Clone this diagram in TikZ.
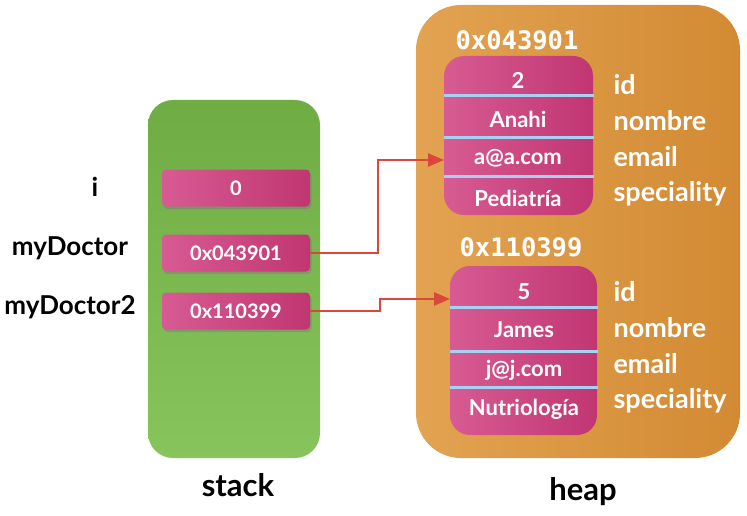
\documentclass[tikz,border=0pt]{standalone}
\usepackage{fontspec}
\setmainfont{Lato}
\newfontfamily\addrfont{DejaVu Sans Mono}
\usetikzlibrary{shadows,arrows.meta}

\definecolor{stackgreen}{HTML}{70AC44}
\definecolor{stackgreenlt}{HTML}{88C45C}
\definecolor{heaporange}{HTML}{D38A33}
\definecolor{heaporangelt}{HTML}{E2A352}
\definecolor{cellpink}{HTML}{C13672}
\definecolor{cellpinklt}{HTML}{D75B92}
\definecolor{sepblue}{HTML}{A5D2F2}
\definecolor{ptrred}{HTML}{D9483A}

\tikzset{
  cell/.style={rounded corners=4pt, left color=cellpinklt, right color=cellpink,
    minimum width=148pt, minimum height=37pt, inner sep=0pt, text=white,
    font=\fontsize{20}{20}\selectfont\bfseries,
    drop shadow={shadow xshift=1.5pt, shadow yshift=-2.5pt, opacity=0.55}},
  record/.style={rounded corners=20pt, left color=cellpinklt, right color=cellpink,
    minimum width=149pt, minimum height=159pt, inner sep=0pt},
  field/.style={text=white, font=\fontsize{22}{22}\selectfont\bfseries},
  fname/.style={text=white, anchor=west, font=\fontsize{27}{27}\selectfont\bfseries},
  vname/.style={text=black, font=\fontsize{26}{26}\selectfont\bfseries},
  plabel/.style={text=black, font=\fontsize{31}{31}\selectfont\bfseries},
  addr/.style={text=white, font=\fontsize{25.5}{25.5}\selectfont\addrfont\bfseries},
  sep/.style={sepblue, line width=3pt},
  ptr/.style={ptrred, line width=2.5pt, -{Triangle[length=16pt,width=13pt]}},
}

\begin{document}
\begin{tikzpicture}[x=1pt,y=-1pt]
  \useasboundingbox (0,0) rectangle (747,516);

  % stack
  \shade[rounded corners=25pt, top color=stackgreen, bottom color=stackgreenlt] (148,100) rectangle (320,458);
  \node[cell] (c0) at (236,188) {0};
  \node[cell] (c1) at (236,253) {0x043901};
  \node[cell] (c2) at (236,311) {0x110399};
  \node[vname] (vi) at (95,187) {i};
  \node[vname] (vd1) at (70,248) {myDoctor};
  \node[vname] (vd2) at (70,307) {myDoctor2};
  \node[plabel] (lstack) at (238,485) {stack};

  % heap
  \shade[rounded corners=45pt, left color=heaporangelt, right color=heaporange] (416,5) rectangle (740,458);
  \node[plabel] (lheap) at (583,492) {heap};

  % first doctor
  \node[addr] (a1) at (517,40) {0x043901};
  \node[record] (r1) at (518.5,135.5) {};
  \draw[sep] (444,96) -- (594,96);
  \draw[sep] (444,138) -- (594,138);
  \draw[sep] (444,176) -- (594,176);
  \node[field] (r1id) at (518,80) {2};
  \node[field] (r1nom) at (518,119) {Anahi};
  \node[field] (r1mail) at (518,158) {a@a.com};
  \node[field] (r1spec) at (518,198) {Pediatría};
  \node[fname] (n1id) at (610,85) {id};
  \node[fname] (n1nom) at (610,121) {nombre};
  \node[fname] (n1mail) at (610,157) {email};
  \node[fname] (n1spec) at (610,194) {speciality};

  % second doctor
  \node[addr] (a2) at (521,247) {0x110399};
  \node[record, minimum width=147pt, minimum height=169pt] (r2) at (523.5,350.5) {};
  \draw[sep] (450,307) -- (598,307);
  \draw[sep] (450,351) -- (598,351);
  \draw[sep] (450,387) -- (598,387);
  \node[field] (r2id) at (524,292) {5};
  \node[field] (r2nom) at (524,330) {James};
  \node[field] (r2mail) at (524,370) {j@j.com};
  \node[field] (r2spec) at (524,409) {Nutriología};
  \node[fname] (n2id) at (610,292) {id};
  \node[fname] (n2nom) at (610,328) {nombre};
  \node[fname] (n2mail) at (610,364) {email};
  \node[fname] (n2spec) at (610,401) {speciality};

  % pointers
  \coordinate (in1) at (444,160);
  \coordinate (in2) at (450,299);
  \draw[ptr] (c1.east) -- ++(68,0) |- (in1);
  \draw[ptr] (c2.east) -- ++(70,0) |- (in2);
\end{tikzpicture}
\end{document}
